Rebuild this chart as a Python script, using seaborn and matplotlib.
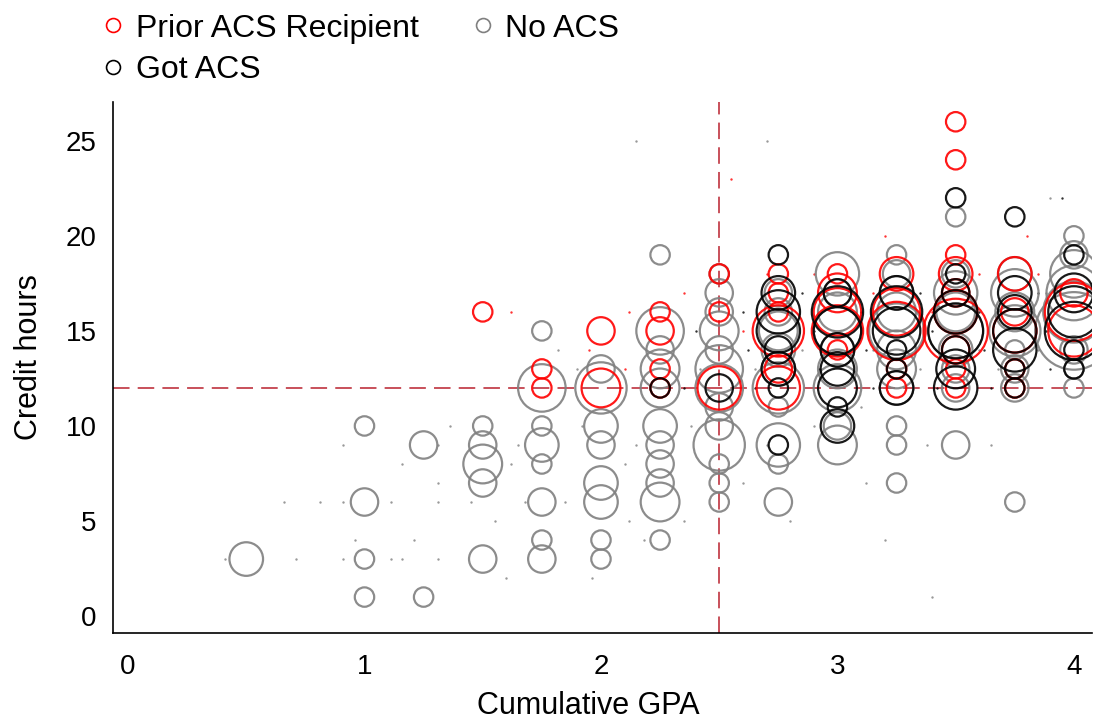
import numpy as np
import pandas as pd
import matplotlib
matplotlib.use("Agg")
import matplotlib.pyplot as plt
from matplotlib.lines import Line2D
import seaborn as sns

# ---------------- data ----------------
# (gpa, credit hours, count)
no_gpa = [0.5,
          1.0, 1.0, 1.0, 1.0,
          1.25, 1.25,
          1.5, 1.5, 1.5, 1.5, 1.5,
          1.75, 1.75, 1.75, 1.75, 1.75, 1.75, 1.75, 1.75,
          2.0, 2.0, 2.0, 2.0, 2.0, 2.0, 2.0, 2.0,
          2.25, 2.25, 2.25, 2.25, 2.25, 2.25, 2.25, 2.25, 2.25, 2.25, 2.25,
          2.5, 2.5, 2.5, 2.5, 2.5, 2.5, 2.5, 2.5, 2.5, 2.5, 2.5, 2.5, 2.5,
          2.75, 2.75, 2.75, 2.75, 2.75, 2.75, 2.75, 2.75, 2.75, 2.75,
          3.0, 3.0, 3.0, 3.0, 3.0, 3.0, 3.0, 3.0, 3.0,
          3.25, 3.25, 3.25, 3.25, 3.25, 3.25, 3.25, 3.25, 3.25, 3.25, 3.25,
          3.5, 3.5, 3.5, 3.5, 3.5, 3.5, 3.5, 3.5, 3.5,
          3.75, 3.75, 3.75, 3.75, 3.75, 3.75, 3.75, 3.75,
          4.0, 4.0, 4.0, 4.0, 4.0, 4.0, 4.0, 4.0, 4.0]
no_hours = [3,
            10, 6, 3, 1,
            9, 1,
            10, 9, 8, 7, 3,
            15, 12, 10, 9, 8, 6, 4, 3,
            13, 12, 10, 9, 7, 6, 4, 3,
            19, 15, 14, 13, 12, 10, 9, 8, 7, 6, 4,
            18, 17, 16, 15, 14, 13, 12, 11, 10, 9, 8, 7, 6,
            17, 16, 15, 14, 13, 12, 11, 9, 8, 6,
            18, 17, 16, 15, 14, 13, 12, 10, 9,
            19, 18, 17, 16, 15, 14, 13, 12, 10, 9, 7,
            21, 18, 17, 16, 15, 14, 13, 12, 9,
            18, 17, 16, 15, 14, 13, 12, 6,
            20, 19, 18, 17, 16, 15, 14, 13, 12]
no_n = [3,
        1, 2, 1, 1,
        2, 1,
        1, 2, 4, 2, 2,
        1, 6, 1, 3, 1, 2, 1, 2,
        2, 7, 3, 2, 3, 3, 1, 1,
        1, 6, 2, 4, 4, 3, 2, 2, 2, 4, 1,
        1, 2, 2, 4, 2, 6, 6, 2, 2, 7, 1, 1, 1,
        2, 2, 4, 3, 3, 7, 1, 5, 1, 2,
        5, 2, 4, 6, 3, 4, 6, 2, 4,
        1, 2, 3, 4, 8, 4, 4, 3, 1, 1, 1,
        1, 2, 5, 4, 8, 3, 2, 2, 2,
        3, 6, 4, 7, 1, 2, 2, 1,
        1, 2, 6, 8, 10, 16, 2, 1, 1]

prior_gpa = [1.5, 1.75, 1.75, 2.0, 2.0, 2.25, 2.25, 2.25, 2.25,
             2.5, 2.5, 2.5,
             2.75, 2.75, 2.75, 2.75, 2.75, 2.75,
             3.0, 3.0, 3.0, 3.0, 3.0,
             3.25, 3.25, 3.25, 3.25, 3.25,
             3.5, 3.5, 3.5, 3.5, 3.5, 3.5, 3.5, 3.5, 3.5, 3.5,
             3.75, 3.75, 3.75, 3.75, 3.75,
             4.0, 4.0, 4.0]
prior_hours = [16, 13, 12, 15, 12, 16, 15, 13, 12,
               18, 16, 12,
               18, 17, 16, 15, 13, 12,
               18, 17, 16, 15, 14,
               18, 16, 15, 13, 12,
               26, 24, 19, 18, 17, 16, 15, 14, 13, 12,
               18, 16, 15, 13, 12,
               17, 16, 15]
prior_n = [1, 1, 1, 2, 4, 1, 2, 1, 1,
           1, 1, 5,
           1, 1, 1, 7, 2, 5,
           1, 4, 6, 7, 1,
           3, 6, 9, 1, 1,
           1, 1, 1, 3, 2, 5, 11, 2, 1, 1,
           3, 2, 5, 1, 1,
           2, 9, 7]

got_gpa = [2.25, 2.5,
           2.75, 2.75, 2.75, 2.75, 2.75, 2.75, 2.75, 2.75,
           3.0, 3.0, 3.0, 3.0, 3.0, 3.0, 3.0, 3.0,
           3.25, 3.25, 3.25, 3.25, 3.25, 3.25,
           3.5, 3.5, 3.5, 3.5, 3.5, 3.5, 3.5, 3.5,
           3.75, 3.75, 3.75, 3.75, 3.75, 3.75, 3.75,
           4.0, 4.0, 4.0, 4.0, 4.0, 4.0]
got_hours = [12, 12,
             19, 17, 16, 15, 14, 13, 12, 9,
             17, 16, 15, 14, 13, 12, 11, 10,
             17, 16, 15, 14, 13, 12,
             22, 18, 17, 16, 15, 14, 13, 12,
             21, 17, 16, 15, 14, 13, 12,
             19, 17, 16, 15, 14, 13]
got_n = [1, 2,
         1, 3, 5, 5, 2, 3, 1, 1,
         2, 7, 6, 3, 3, 4, 1, 3,
         3, 7, 6, 1, 1, 3,
         1, 1, 2, 5, 8, 2, 4, 5,
         1, 3, 3, 5, 5, 1, 1,
         1, 4, 7, 9, 1, 1]

# individual (unbinned) students shown as tiny dots
dot_no_gpa = [0.41, 0.66, 0.71, 0.81, 0.91, 0.91, 0.91, 0.96, 1.11, 1.11, 1.16, 1.16,
              1.21, 1.31, 1.31, 1.31, 1.31, 1.36, 1.45, 1.55, 1.6, 1.62, 1.65, 1.68,
              1.82, 1.85, 1.9, 1.92, 1.96, 2.1, 2.12, 2.15, 2.18, 2.35, 2.38, 2.42,
              2.6, 2.65, 2.7, 2.8, 2.85, 2.9, 3.1, 3.12, 3.15, 3.2, 3.35, 3.38, 3.4,
              3.6, 3.65, 3.68, 3.85, 3.88, 3.9, 2.15, 2.7]
dot_no_hours = [3, 6, 3, 6, 9, 6, 3, 4, 6, 3, 8, 3,
                4, 9, 7, 6, 3, 10, 6, 5, 2, 8, 9, 6,
                14, 6, 13, 10, 2, 8, 5, 9, 4, 5, 10, 13,
                7, 13, 9, 5, 14, 10, 11, 7, 14, 4, 13, 9, 1,
                14, 9, 13, 14, 17, 22, 25, 25]
dot_got_gpa = [2.35, 2.4, 2.6, 2.62, 2.65, 2.85, 2.9, 2.92, 3.1, 3.12, 3.15,
               3.35, 3.4, 3.42, 3.6, 3.62, 3.65, 3.85, 3.88, 3.9, 3.95]
dot_got_hours = [12, 15, 16, 14, 12, 17, 15, 13, 16, 14, 12,
                 17, 15, 12, 16, 14, 12, 17, 15, 13, 22]
dot_prior_gpa = [1.62, 1.95, 2.1, 2.12, 2.35, 2.55, 2.6, 2.7, 2.9, 3.15, 3.2,
                 3.4, 3.6, 3.8, 3.85]
dot_prior_hours = [16, 14, 13, 16, 17, 23, 15, 18, 18, 17, 20,
                   16, 18, 20, 18]

groups = ["Prior ACS Recipient", "Got ACS", "No ACS"]
colors = {"Prior ACS Recipient": "#FF0000", "Got ACS": "#000000", "No ACS": "#808080"}

df = pd.concat([
    pd.DataFrame({"gpa": no_gpa, "hours": no_hours, "n": no_n, "group": "No ACS"}),
    pd.DataFrame({"gpa": prior_gpa, "hours": prior_hours, "n": prior_n, "group": "Prior ACS Recipient"}),
    pd.DataFrame({"gpa": got_gpa, "hours": got_hours, "n": got_n, "group": "Got ACS"}),
], ignore_index=True)

dots = pd.concat([
    pd.DataFrame({"gpa": dot_no_gpa, "hours": dot_no_hours, "group": "No ACS"}),
    pd.DataFrame({"gpa": dot_prior_gpa, "hours": dot_prior_hours, "group": "Prior ACS Recipient"}),
    pd.DataFrame({"gpa": dot_got_gpa, "hours": dot_got_hours, "group": "Got ACS"}),
], ignore_index=True)

# ---------------- plot ----------------
sns.set_theme(style="white")
plt.rcParams["font.family"] = ["Liberation Sans", "DejaVu Sans"]
plt.rcParams["text.color"] = "black"
plt.rcParams["axes.labelcolor"] = "black"
plt.rcParams["xtick.color"] = "black"
plt.rcParams["ytick.color"] = "black"

fig = plt.figure(figsize=(11.09, 7.22), dpi=100)
ax = fig.add_axes([0.102, 0.123, 0.883, 0.736])

nmax = 16
unit = 195.0
for g in ["No ACS", "Prior ACS Recipient", "Got ACS"]:
    sub = dots[dots.group == g]
    sns.scatterplot(data=sub, x="gpa", y="hours", s=3, color=colors[g],
                    linewidth=0, alpha=0.8, ax=ax, legend=False)
for g in ["No ACS", "Prior ACS Recipient", "Got ACS"]:
    sub = df[df.group == g]
    sns.scatterplot(data=sub, x="gpa", y="hours", size="n",
                    sizes=(0, unit * nmax), size_norm=(0, nmax),
                    facecolor="none", edgecolor=colors[g], linewidth=1.6,
                    alpha=0.9, ax=ax, legend=False)

ax.axvline(2.5, color="#C8505A", linestyle=(0, (8.5, 4.2)), linewidth=1.4, zorder=0.5)
ax.axhline(12, color="#C8505A", linestyle=(0, (8.5, 4.2)), linewidth=1.4, zorder=0.5)

ax.set_xlim(-0.063, 4.078)
ax.set_ylim(-0.9, 27.05)
ax.set_xticks([0, 1, 2, 3, 4])
ax.set_yticks([0, 5, 10, 15, 20, 25])
ax.tick_params(axis="x", labelsize=20, length=0, pad=15)
ax.tick_params(axis="y", labelsize=20, length=0, pad=12)
ax.set_xlabel("Cumulative GPA", fontsize=22)
ax.set_ylabel("Credit hours", fontsize=22)
ax.xaxis.set_label_coords(0.485, -0.108)
ax.yaxis.set_label_coords(-0.071, 0.52)
for side in ["top", "right"]:
    ax.spines[side].set_visible(False)
for side in ["left", "bottom"]:
    ax.spines[side].set_color("black")
    ax.spines[side].set_linewidth(1.2)

handles = [Line2D([], [], marker="o", linestyle="none", markerfacecolor="none",
                  markeredgecolor=colors[g], markersize=10, markeredgewidth=1.2)
           for g in groups]
fig.legend(handles, groups, loc="upper left", bbox_to_anchor=(0.062, 1.021),
           ncol=2, frameon=False, fontsize=23, handlelength=1.0,
           handletextpad=0.2, columnspacing=1.5, labelspacing=0.37)

fig.savefig("out.png", dpi=100)
